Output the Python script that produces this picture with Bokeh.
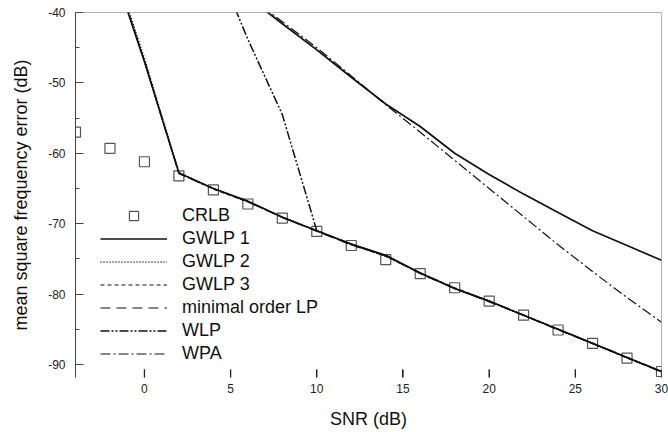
from bokeh.plotting import figure
from bokeh.models import (Legend, LegendItem, Span, FixedTicker, SingleIntervalTicker,
                          Range1d, PrintfTickFormatter)
from bokeh.embed import file_html
from bokeh.resources import INLINE

# ---- data ----
snr = [-4, -2, 0, 2, 4, 6, 8, 10, 12, 14, 16, 18, 20, 22, 24, 26, 28, 30]
crlb = [-57.0, -59.3, -61.2, -63.2, -65.2, -67.2, -69.2, -71.1, -73.1, -75.1,
        -77.1, -79.1, -81.0, -83.0, -85.1, -87.0, -89.1, -91.0]

snr_gwlp = [-2, 0, 2, 4, 6, 8, 10, 12, 14, 16, 18, 20, 22, 24, 26, 28, 30]
gwlp1 = [-32.3, -47.0, -62.8, -65.0, -66.8, -69.1, -71.0, -72.9, -74.5, -77.0,
         -79.2, -81.0, -83.0, -85.0, -87.0, -89.0, -91.0]
gwlp2 = [-31.5, -46.5, -62.7, -65.0, -66.9, -69.0, -71.0, -72.9, -74.6, -77.0,
         -79.2, -81.0, -83.0, -85.0, -87.0, -89.0, -91.0]
gwlp3 = [-32.0, -46.8, -62.8, -65.1, -66.9, -69.1, -71.0, -73.0, -74.6, -77.0,
         -79.1, -81.0, -83.0, -85.0, -87.0, -89.1, -91.0]
minimal_lp = [-32.2, -46.9, -62.9, -65.0, -66.9, -69.1, -71.1, -73.0, -74.5, -77.1,
              -79.2, -81.1, -83.0, -85.1, -87.0, -89.0, -91.1]

snr_wlp = [4, 6, 8, 10, 12, 14, 16, 18, 20, 22, 24, 26, 28, 30]
wlp = [-32.0, -43.8, -54.5, -71.0, -72.9, -74.6, -77.0, -79.2, -81.0, -83.0,
       -85.0, -87.0, -89.0, -91.0]

snr_high = [6, 8, 10, 12, 14, 16, 18, 20, 22, 24, 26, 28, 30]
wpa = [-37.6, -41.3, -45.0, -49.0, -53.1, -57.0, -61.0, -65.0, -69.0, -73.0,
       -76.8, -80.5, -84.0]
upper_solid = [-37.8, -41.6, -45.3, -49.2, -53.0, -56.2, -60.0, -63.0, -65.8,
               -68.4, -71.0, -73.1, -75.2]

x_ticks = [0, 5, 10, 15, 20, 25, 30]

FONT = "Liberation Sans"
X_LO, X_HI = -4, 30
Y_LO, Y_HI = -91.85, -40
TICK_LEN = 1.15  # in dB units (about 8 px)

p = figure(width=668, height=432, output_backend="svg", toolbar_location=None,
           x_range=Range1d(X_LO, X_HI), y_range=Range1d(Y_LO, Y_HI),
           min_border_left=75, min_border_right=7, min_border_top=12,
           min_border_bottom=55)
p.outline_line_color = None
p.xgrid.visible = False
p.ygrid.visible = False
p.background_fill_color = "white"
p.border_fill_color = "white"

# frame top and right edges
p.add_layout(Span(location=Y_HI, dimension="width", line_color="#666666", line_width=1))
p.add_layout(Span(location=X_HI, dimension="height", line_color="#666666", line_width=1))

# x tick marks pointing up from the bottom of the frame
p.segment(x0=x_ticks, y0=[Y_LO] * len(x_ticks), x1=x_ticks,
          y1=[Y_LO + TICK_LEN] * len(x_ticks), line_color="#222222", line_width=1.3)

BLACK = "#111111"
r_crlb = p.scatter(snr, crlb, marker="square", size=10, fill_color=None,
                   line_color="#555555", line_width=1.2)
r_g1 = p.line(snr_gwlp, gwlp1, line_color=BLACK, line_width=1.7)
r_g2 = p.line(snr_gwlp, gwlp2, line_color=BLACK, line_width=1.4, line_dash="1 2")
r_g3 = p.line(snr_gwlp, gwlp3, line_color=BLACK, line_width=1.2, line_dash="4 3")
r_min = p.line(snr_gwlp, minimal_lp, line_color=BLACK, line_width=1.2, line_dash="10 6")
r_wlp = p.line(snr_wlp, wlp, line_color=BLACK, line_width=1.5, line_dash="9 2 2 2 2 2")
r_wpa = p.line(snr_high, wpa, line_color=BLACK, line_width=1.2, line_dash="10 3 2 3")
r_up = p.line(snr_high, upper_solid, line_color=BLACK, line_width=1.7)

# axes
xa = p.xaxis[0]
xa.ticker = FixedTicker(ticks=x_ticks)
xa.formatter = PrintfTickFormatter(format="%d")
xa.axis_line_color = None
xa.major_tick_in = 8
xa.major_tick_out = 0
xa.major_tick_line_color = "#222222"
xa.minor_tick_line_color = None
xa.major_label_standoff = 6
xa.major_label_text_font = FONT
xa.major_label_text_font_size = "12px"
xa.major_label_text_color = "#222222"
xa.axis_label = "SNR (dB)"
xa.axis_label_text_font = FONT
xa.axis_label_text_font_size = "18px"
xa.axis_label_text_font_style = "normal"
xa.axis_label_text_color = "#111111"
xa.axis_label_standoff = 13

ya = p.yaxis[0]
ya.ticker = SingleIntervalTicker(interval=10, num_minor_ticks=2)
ya.formatter = PrintfTickFormatter(format="%d")
ya.axis_line_color = "#444444"
ya.major_tick_in = 8
ya.major_tick_out = 0
ya.minor_tick_in = 4
ya.minor_tick_out = 0
ya.major_tick_line_color = "#444444"
ya.minor_tick_line_color = "#444444"
ya.major_label_standoff = 10
ya.major_label_text_font = FONT
ya.major_label_text_font_size = "12px"
ya.major_label_text_color = "#222222"
ya.axis_label = "mean square frequency error (dB)"
ya.axis_label_text_font = FONT
ya.axis_label_text_font_size = "18px"
ya.axis_label_text_font_style = "normal"
ya.axis_label_text_color = "#111111"
ya.axis_label_standoff = 14

legend = Legend(items=[
    LegendItem(label="CRLB", renderers=[r_crlb]),
    LegendItem(label="GWLP 1", renderers=[r_g1]),
    LegendItem(label="GWLP 2", renderers=[r_g2]),
    LegendItem(label="GWLP 3", renderers=[r_g3]),
    LegendItem(label="minimal order LP", renderers=[r_min]),
    LegendItem(label="WLP", renderers=[r_wlp]),
    LegendItem(label="WPA", renderers=[r_wpa]),
], location=(25, 12))
legend.label_text_font = FONT
legend.label_text_font_size = "18px"
legend.label_text_color = "#111111"
legend.glyph_width = 67
legend.glyph_height = 23
legend.label_height = 23
legend.label_standoff = 15
legend.spacing = 0
legend.padding = 0
legend.margin = 0
legend.border_line_color = None
legend.background_fill_alpha = 0
p.add_layout(legend, "center")

open("out.html", "w").write(file_html(p, INLINE))
